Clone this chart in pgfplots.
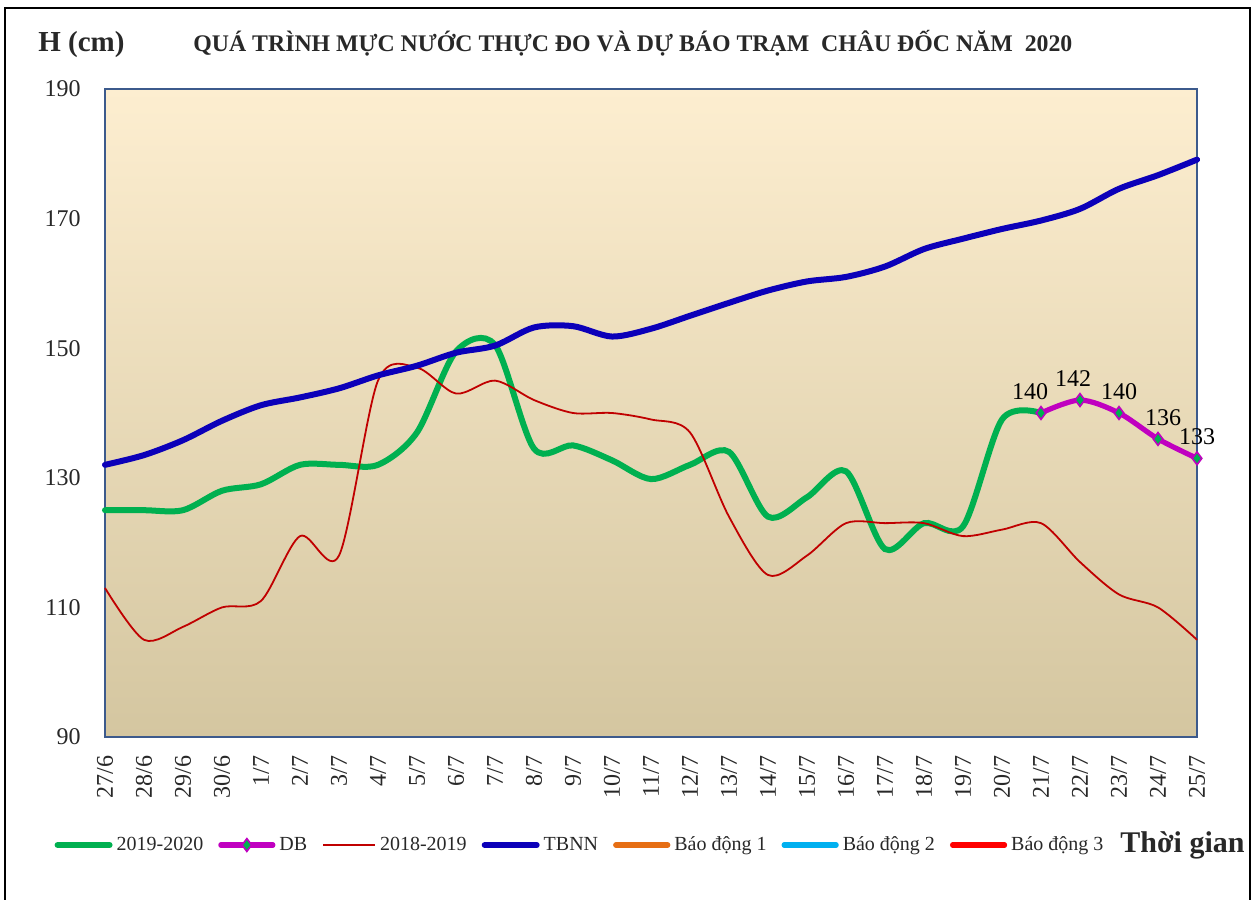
\documentclass[border=0pt]{standalone}
\usepackage{fontspec}
\setmainfont{Liberation Serif}
\usepackage{pgfplots}
\usepackage{pgfplotstable}
\pgfplotsset{compat=1.18}

\definecolor{cgreen}{RGB}{0,176,80}
\definecolor{cmag}{RGB}{192,0,192}
\definecolor{cred}{RGB}{192,0,0}
\definecolor{cblue}{RGB}{12,0,185}
\definecolor{corange}{RGB}{230,110,20}
\definecolor{csky}{RGB}{0,176,240}
\definecolor{cbright}{RGB}{255,0,0}
\definecolor{bgtop}{RGB}{253,238,208}
\definecolor{bgmid}{RGB}{242,234,212}
\definecolor{bgbot}{RGB}{212,198,160}
\definecolor{axcol}{RGB}{60,90,140}
\definecolor{txt}{RGB}{40,40,40}

\pgfplotstableread{
x y
0 125
1 125
2 125
3 128
4 129
5 132
6 132
7 132
8 137
9 149.5
10 150.5
11 134.5
12 135
13 132.7
14 129.8
15 132
16 134
17 124
18 127
19 131
20 119
21 123
22 122.5
23 139
24 140
}\greentbl

\pgfplotstableread{
x y
24 140
25 142
26 140
27 136
28 133
}\dbtbl

\pgfplotstableread{
x y
0 113
1 105
2 107
3 110
4 111
5 121
6 118
7 145
8 147
9 143
10 145
11 142
12 140
13 140
14 139
15 137
16 124
17 115
18 118
19 123
20 123
21 123
22 121
23 122
24 123
25 117
26 112
27 110
28 105
}\redtbl

\pgfplotstableread{
x y
0 132
1 133.5
2 135.8
3 138.8
4 141.2
5 142.4
6 143.8
7 145.8
8 147.3
9 149.3
10 150.4
11 153.2
12 153.4
13 151.8
14 153
15 155
16 157
17 158.9
18 160.3
19 161
20 162.6
21 165.3
22 166.9
23 168.4
24 169.7
25 171.5
26 174.6
27 176.7
28 179.1
}\bluetbl

\begin{document}
\begin{tikzpicture}
\path[use as bounding box] (0pt,0pt) rectangle (629.5pt,450pt);
\draw[line width=1pt, black] (2.5pt,-2pt) -- (2.5pt,446pt) -- (625pt,446pt) -- (625pt,-2pt);

\node[anchor=base west, inner sep=0pt, text=txt, font=\bfseries\fontsize{14.5}{16}\selectfont] at (19pt,424pt) {H (cm)};
\node[anchor=base west, inner sep=0pt, text=txt, font=\bfseries\fontsize{11.9}{14}\selectfont] at (96.5pt,424pt) {QUÁ TRÌNH MỰC NƯỚC THỰC ĐO VÀ DỰ BÁO TRẠM\ \ CHÂU ĐỐC NĂM\ \ 2020};
\node[anchor=base west, inner sep=0pt, text=txt, font=\bfseries\fontsize{15}{18}\selectfont] at (560pt,23.5pt) {Thời gian};

\begin{axis}[
  at={(52.5pt,81.5pt)}, anchor=south west,
  scale only axis, width=546pt, height=324pt,
  xmin=0, xmax=28, ymin=90, ymax=190,
  xtick={0,...,28},
  xticklabels={27/6,28/6,29/6,30/6,1/7,2/7,3/7,4/7,5/7,6/7,7/7,8/7,9/7,10/7,11/7,12/7,13/7,14/7,15/7,16/7,17/7,18/7,19/7,20/7,21/7,22/7,23/7,24/7,25/7},
  ytick={90,110,130,150,170,190},
  tick style={draw=none},
  axis line style={draw=axcol, line width=0.8pt},
  axis background/.style={top color=bgtop, middle color=bgmid, bottom color=bgbot},
  ticklabel style={font=\fontsize{12}{14}\selectfont, text=txt},
  yticklabel style={anchor=east, inner sep=0pt, xshift=-12pt},
  xticklabel style={yshift=-9pt, rotate=90, anchor=east, inner sep=0pt},
  /pgf/number format/assume math mode=true,
  clip=false,
  legend columns=7,
  legend cell align=left,
  legend image code/.code={\draw[mark repeat=2,mark phase=2,#1] plot coordinates {(0pt,0pt) (13pt,0pt) (26pt,0pt)};},
  legend style={at={(0.4359,-0.1667)}, anchor=center, draw=none, fill=none,
    font=\fontsize{10}{12}\selectfont, text=txt, inner sep=0pt,
    /tikz/every even column/.append style={column sep=5.5pt}},
]
\addplot[cgreen, line width=3pt, smooth, tension=0.5, line cap=round] table[x=x,y=y] {\greentbl};
\addlegendentry{2019-2020}
\addplot[cmag, line width=2.6pt, smooth, tension=0.5, line cap=round,
  mark=diamond*, mark size=3.2pt, mark options={fill=cgreen, draw=cmag, line width=0.8pt},
  nodes near coords,
  every node near coord/.append style={font=\fontsize{12}{14}\selectfont, text=black, anchor=south, yshift=3pt},
  coordinate style/.condition={x==24}{xshift=-5.5pt},
  coordinate style/.condition={x==25}{xshift=-3.5pt},
  coordinate style/.condition={x==27}{xshift=2.5pt}] table[x=x,y=y] {\dbtbl};
\addlegendentry{DB}
\addplot[cred, line width=0.9pt, smooth, tension=0.5] table[x=x,y=y] {\redtbl};
\addlegendentry{2018-2019}
\addplot[cblue, line width=3pt, smooth, tension=0.5, line cap=round] table[x=x,y=y] {\bluetbl};
\addlegendentry{TBNN}
\addlegendimage{corange, line width=2.6pt, line cap=round}
\addlegendentry{Báo động 1}
\addlegendimage{csky, line width=2.6pt, line cap=round}
\addlegendentry{Báo động 2}
\addlegendimage{cbright, line width=2.6pt, line cap=round}
\addlegendentry{Báo động 3}
\end{axis}
\end{tikzpicture}
\end{document}
